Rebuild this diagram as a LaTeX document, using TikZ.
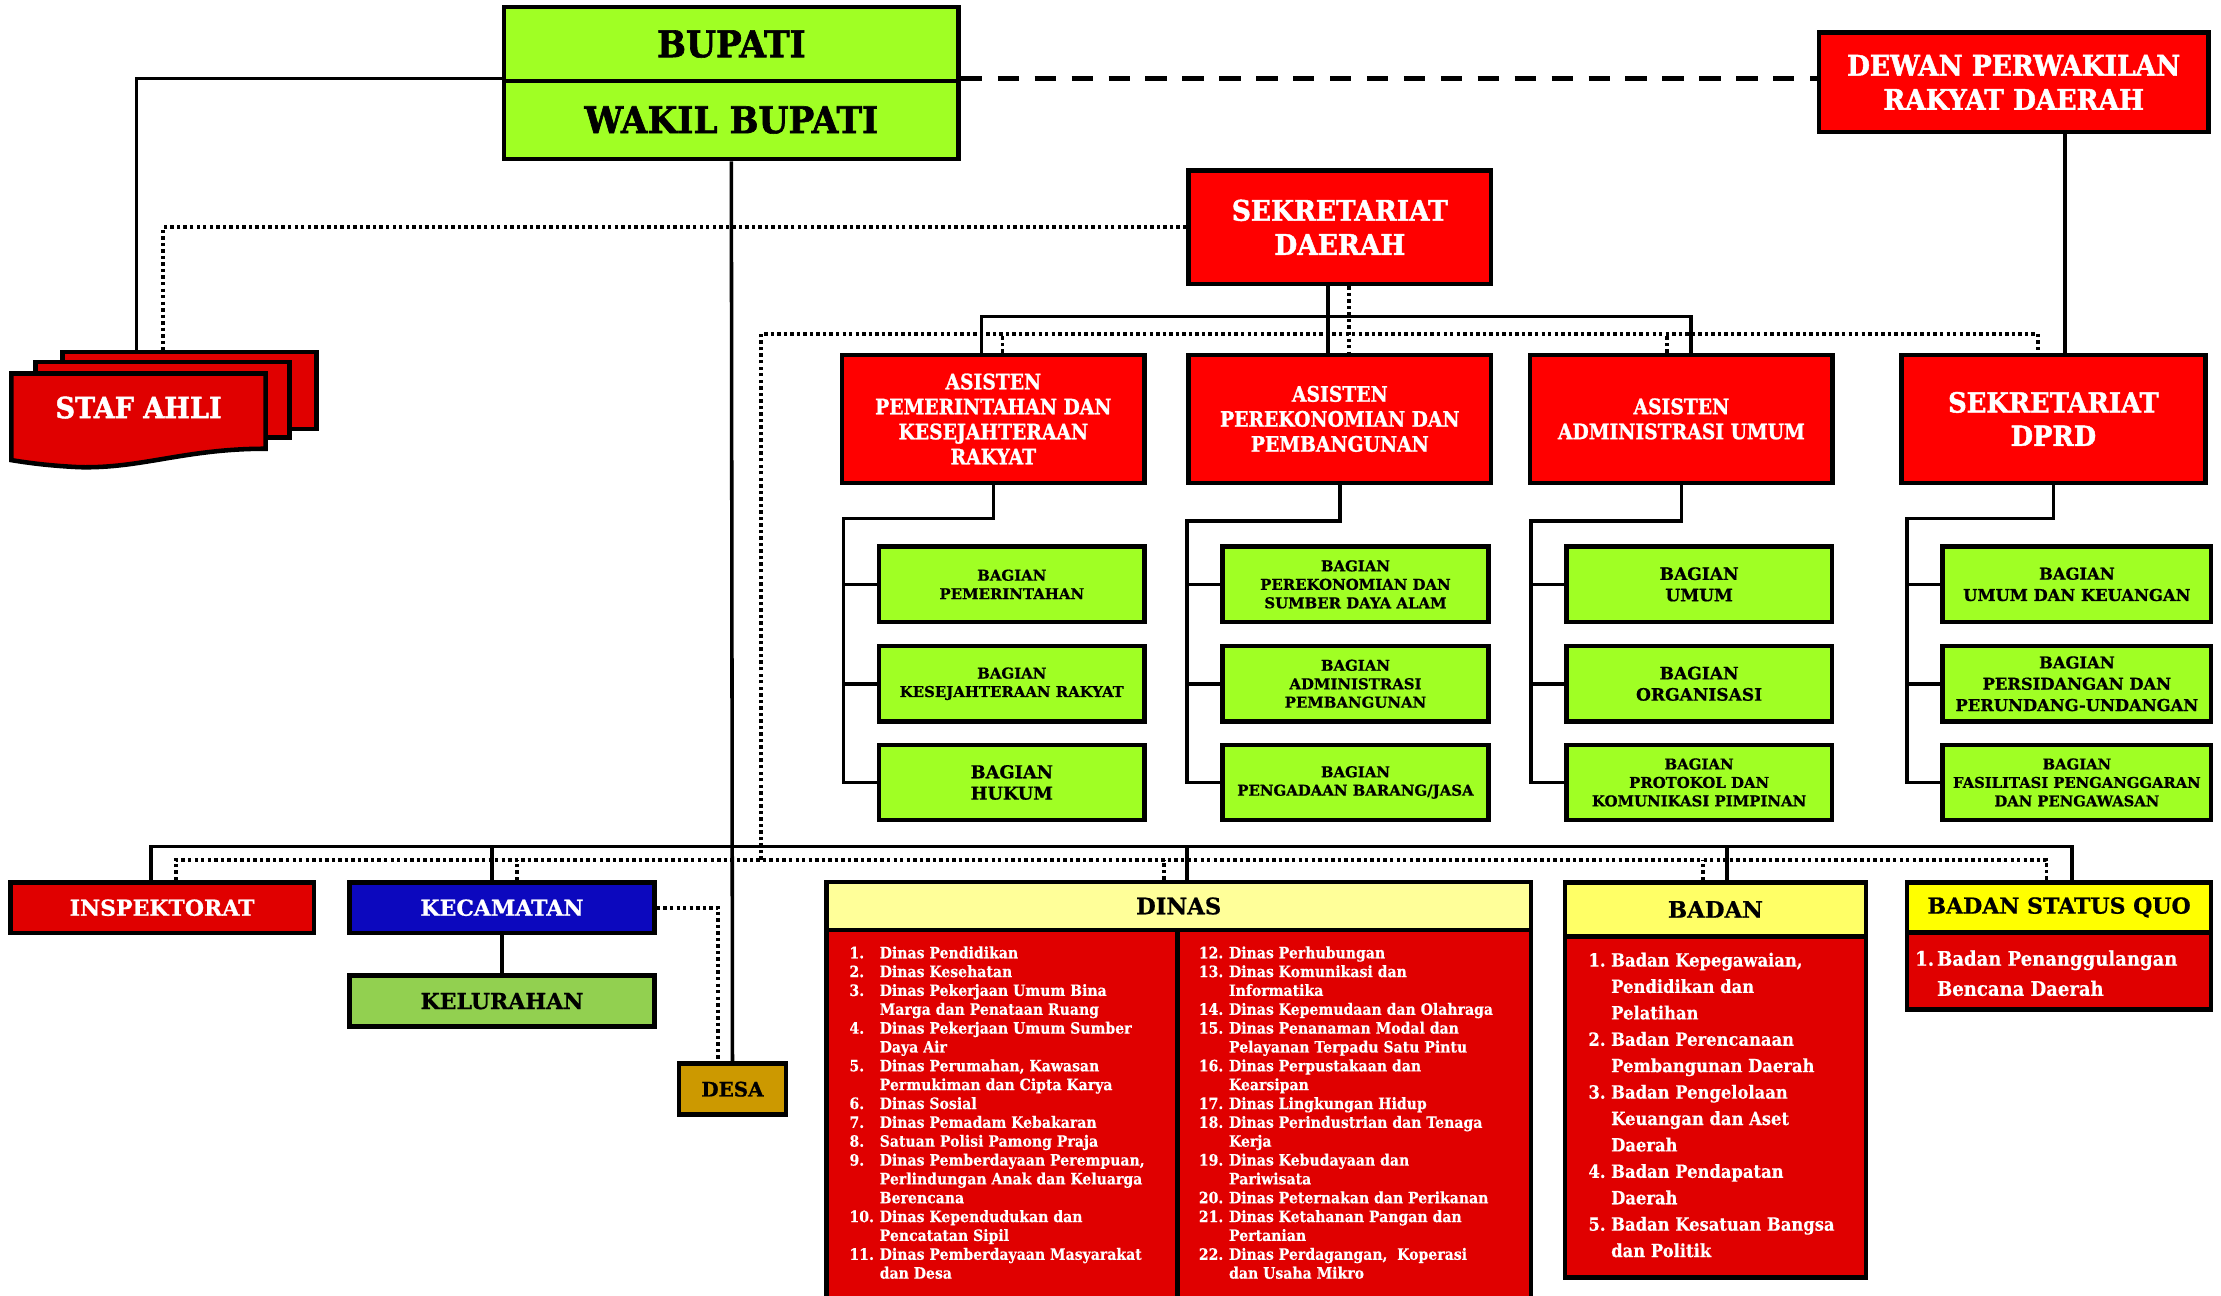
\documentclass[tikz,border=0pt]{standalone}
\usepackage{fontspec}
\setmainfont{DejaVu Serif}
\newfontfamily\hfA{DejaVu Serif}[FakeStretch=0.93,FakeBold=1.6]
\newfontfamily\hfB{DejaVu Serif}[FakeStretch=0.88,FakeBold=1.2]
\newfontfamily\hfC{DejaVu Serif}[FakeBold=0.8]
\newfontfamily\lf{DejaVu Serif}[FakeStretch=0.9,FakeBold=0.4]
\usetikzlibrary{calc}
\definecolor{cGreen}{RGB}{160,255,36}
\definecolor{cRed}{RGB}{255,0,0}
\definecolor{cRedD}{RGB}{224,0,0}
\definecolor{cBlue}{RGB}{12,8,190}
\definecolor{cKel}{RGB}{146,208,80}
\definecolor{cDesa}{RGB}{204,153,0}
\definecolor{cYa}{RGB}{255,255,153}
\definecolor{cYb}{RGB}{255,255,102}
\definecolor{cYc}{RGB}{255,255,0}
\pgfdeclarelayer{bg}
\pgfsetlayers{bg,main}
\tikzset{
  box/.style={draw=black, line width=3.2pt, inner sep=0pt, align=center, rectangle},
  redbox/.style={box, fill=cRed, text=white},
  bagbox/.style={box, fill=cGreen, text=black, minimum width=187pt, minimum height=53pt},
  smallbag/.style={font=\hfC\bfseries\fontsize{10.5}{13}\selectfont},
  bigbag/.style={font=\hfC\bfseries\fontsize{12}{15}\selectfont},
  asfont/.style={font=\hfB\bfseries\fontsize{15}{17.6}\selectfont},
  lowfont/.style={font=\hfC\bfseries\fontsize{15.5}{18}\selectfont},
  conn/.style={line width=2.5pt, black},
  dotc/.style={line width=2.6pt, black, dash pattern=on 2.4pt off 2.2pt},
  dashc/.style={line width=3.6pt, black, dash pattern=on 15pt off 11pt},
  listtxt/.style={inner sep=0pt, anchor=north west, text=white, align=left},
}
\begin{document}
\begin{tikzpicture}[x=1pt,y=-1pt]
\useasboundingbox (0,0) rectangle (1564,912);
% ---------- top
\node[box, fill=cGreen, minimum width=320pt, minimum height=52pt, font=\hfA\bfseries\fontsize{26}{28}\selectfont] (bupati) at (515,31) {BUPATI};
\node[box, fill=cGreen, minimum width=320pt, minimum height=55pt, font=\hfA\bfseries\fontsize{26}{28}\selectfont] (wakil) at (515,84.5) {WAKIL BUPATI};
\node[redbox, minimum width=274pt, minimum height=70pt, font=\hfA\bfseries\fontsize{20}{24}\selectfont] (dprd) at (1418,58) {DEWAN PERWAKILAN\\RAKYAT DAERAH};
\node[redbox, minimum width=213pt, minimum height=80pt, font=\hfA\bfseries\fontsize{20}{24}\selectfont] (sekda) at (943.5,160) {SEKRETARIAT\\DAERAH};
% ---------- staf ahli
\filldraw[fill=cRedD, draw=black, line width=3.2pt] (44,248) rectangle (223,302);
\filldraw[fill=cRedD, draw=black, line width=3.2pt] (25,255) rectangle (204,308);
\filldraw[fill=cRedD, draw=black, line width=3.2pt] (8,263) -- (187,263) -- (187,316) .. controls (130,316) and (100,330) .. (56,329) .. controls (35,328) and (20,326) .. (8,324) -- cycle;
\node[inner sep=0pt, text=white, font=\hfA\bfseries\fontsize{20.5}{24}\selectfont] (staf) at (97.6,287) {STAF AHLI};
\coordinate (stafA) at (96,248);
\coordinate (stafB) at (115,248);
% ---------- asisten
\node[redbox, minimum width=213pt, minimum height=90pt, asfont] (as1) at (699.5,295) {ASISTEN\\PEMERINTAHAN DAN\\KESEJAHTERAAN\\RAKYAT};
\node[redbox, minimum width=213pt, minimum height=90pt, asfont] (as2) at (943.5,295) {ASISTEN\\PEREKONOMIAN DAN\\PEMBANGUNAN};
\node[redbox, minimum width=213pt, minimum height=90pt, asfont] (as3) at (1184,295) {ASISTEN\\ADMINISTRASI UMUM};
\node[redbox, minimum width=214pt, minimum height=90pt, font=\hfA\bfseries\fontsize{19.5}{23.5}\selectfont] (sdprd) at (1446,295) {SEKRETARIAT\\DPRD};
% ---------- bagian
\node[bagbox, smallbag] (b11) at (712.5,411.5) {BAGIAN\\PEMERINTAHAN};
\node[bagbox, smallbag] (b12) at (712.5,481.5) {BAGIAN\\KESEJAHTERAAN RAKYAT};
\node[bagbox, font=\hfC\bfseries\fontsize{12.5}{15}\selectfont] (b13) at (712.5,551) {BAGIAN\\HUKUM};
\node[bagbox, smallbag] (b21) at (954.5,411.5) {BAGIAN\\PEREKONOMIAN DAN\\SUMBER DAYA ALAM};
\node[bagbox, smallbag] (b22) at (954.5,481.5) {BAGIAN\\ADMINISTRASI\\PEMBANGUNAN};
\node[bagbox, smallbag] (b23) at (954.5,551) {BAGIAN\\PENGADAAN BARANG/JASA};
\node[bagbox, bigbag] (b31) at (1196.5,411.5) {BAGIAN\\UMUM};
\node[bagbox, bigbag] (b32) at (1196.5,481.5) {BAGIAN\\ORGANISASI};
\node[bagbox, smallbag] (b33) at (1196.5,551) {BAGIAN\\PROTOKOL DAN\\KOMUNIKASI PIMPINAN};
\node[bagbox, minimum width=189pt, font=\hfC\bfseries\fontsize{11.5}{15}\selectfont] (b41) at (1462.5,411.5) {BAGIAN\\UMUM DAN KEUANGAN};
\node[bagbox, minimum width=189pt, font=\hfC\bfseries\fontsize{11.5}{15}\selectfont] (b42) at (1462.5,481.5) {BAGIAN\\PERSIDANGAN DAN\\PERUNDANG-UNDANGAN};
\node[bagbox, minimum width=189pt, font=\hfC\bfseries\fontsize{10.4}{13}\selectfont] (b43) at (1462.5,551) {BAGIAN\\FASILITASI PENGANGGARAN\\DAN PENGAWASAN};
% ---------- lower row
\node[box, fill=cRedD, text=white, minimum width=213.6pt, minimum height=35.6pt, lowfont] (insp) at (114.2,639.2) {INSPEKTORAT};
\node[box, fill=cBlue, text=white, minimum width=215pt, minimum height=35.6pt, lowfont] (kec) at (353.5,639.2) {KECAMATAN};
\node[box, fill=cKel, text=black, minimum width=215pt, minimum height=36pt, lowfont] (kel) at (353.5,705) {KELURAHAN};
\node[box, fill=cDesa, text=black, minimum width=75.6pt, minimum height=36pt, font=\hfC\bfseries\fontsize{14}{16}\selectfont] (desa) at (515.8,767) {DESA};
% dinas
\node[box, fill=cRedD, minimum width=247pt, minimum height=270pt] (dinasL) at (705.5,790) {};
\node[box, fill=cRedD, minimum width=249pt, minimum height=270pt] (dinasR) at (953.5,790) {};
\node[box, fill=cYa, minimum width=496pt, minimum height=34pt, font=\hfC\bfseries\fontsize{16}{18}\selectfont] (dinas) at (830,638) {DINAS};
\node[listtxt, font=\lf\bfseries\fontsize{11}{13.27}\selectfont] (dl1) at (598,665.3) {\begin{tabular}{@{}p{21.3pt}@{}l@{}}
1. & Dinas Pendidikan\\
2. & Dinas Kesehatan\\
3. & Dinas Pekerjaan Umum Bina\\
   & Marga dan Penataan Ruang\\
4. & Dinas Pekerjaan Umum Sumber\\
   & Daya Air\\
5. & Dinas Perumahan, Kawasan\\
   & Permukiman dan Cipta Karya\\
6. & Dinas Sosial\\
7. & Dinas Pemadam Kebakaran\\
8. & Satuan Polisi Pamong Praja\\
9. & Dinas Pemberdayaan Perempuan,\\
   & Perlindungan Anak dan Keluarga\\
   & Berencana\\
10. & Dinas Kependudukan dan\\
   & Pencatatan Sipil\\
11. & Dinas Pemberdayaan Masyarakat\\
   & dan Desa
\end{tabular}};
\node[listtxt, font=\lf\bfseries\fontsize{11}{13.27}\selectfont] (dl2) at (844,665.3) {\begin{tabular}{@{}p{21.3pt}@{}l@{}}
12. & Dinas Perhubungan\\
13. & Dinas Komunikasi dan\\
    & Informatika\\
14. & Dinas Kepemudaan dan Olahraga\\
15. & Dinas Penanaman Modal dan\\
    & Pelayanan Terpadu Satu Pintu\\
16. & Dinas Perpustakaan dan\\
    & Kearsipan\\
17. & Dinas Lingkungan Hidup\\
18. & Dinas Perindustrian dan Tenaga\\
    & Kerja\\
19. & Dinas Kebudayaan dan\\
    & Pariwisata\\
20. & Dinas Peternakan dan Perikanan\\
21. & Dinas Ketahanan Pangan dan\\
    & Pertanian\\
22. & Dinas Perdagangan,\ \ Koperasi\\
    & dan Usaha Mikro
\end{tabular}};
% badan
\node[box, fill=cRedD, minimum width=212pt, minimum height=240.5pt] (badanB) at (1208,779.5) {};
\node[box, fill=cYb, minimum width=212pt, minimum height=37.8pt, font=\hfC\bfseries\fontsize{16}{18}\selectfont] (badan) at (1208,640.4) {BADAN};
\node[listtxt, font=\lf\bfseries\fontsize{12.8}{18.6}\selectfont] (bl) at (1118.4,667.4) {\begin{tabular}{@{}p{16pt}@{}l@{}}
1. & Badan Kepegawaian,\\
   & Pendidikan dan\\
   & Pelatihan\\
2. & Badan Perencanaan\\
   & Pembangunan Daerah\\
3. & Badan Pengelolaan\\
   & Keuangan dan Aset\\
   & Daerah\\
4. & Badan Pendapatan\\
   & Daerah\\
5. & Badan Kesatuan Bangsa\\
   & dan Politik
\end{tabular}};
% badan status quo
\node[box, fill=cRedD, minimum width=214pt, minimum height=54.5pt] (bsqB) at (1450,683.75) {};
\node[box, fill=cYc, minimum width=214pt, minimum height=35pt, font=\hfC\bfseries\fontsize{15.5}{18}\selectfont] (bsq) at (1450,639) {BADAN STATUS QUO};
\node[listtxt, font=\lf\bfseries\fontsize{14.1}{21.2}\selectfont] (ql) at (1348.5,665) {\begin{tabular}{@{}p{15.4pt}@{}l@{}}
1. & Badan Penanggulangan\\
   & Bencana Daerah
\end{tabular}};
% ---------- connectors
\begin{pgfonlayer}{bg}
\fill[white] (0,0) rectangle (1564,912);
\draw[conn] (wakil.north west) -| (stafA);
\draw[dotc] (sekda.west) -| (stafB);
\draw[dashc] (wakil.north east) -- (wakil.north east -| dprd.west);
\draw[conn] ([xshift=8pt]sdprd.north) -- ([xshift=8pt]sdprd.north |- dprd.south);
\draw[conn] (wakil.south) -- (desa.north);
% sekda to asisten
\coordinate (sbar) at (935,223);
\draw[conn] ([xshift=-8.5pt]sekda.south) -- ([xshift=-8.5pt]as2.north);
\draw[conn] (sbar) -| ([xshift=-8.5pt]as1.north);
\draw[conn] (sbar) -| ([xshift=6.6pt]as3.north);
% dotted upper
\coordinate (dtl) at (536,235);
\coordinate (dbl) at (536,605.5);
\draw[dotc] ([xshift=6.5pt]sekda.south) -- ([xshift=6.5pt]as2.north);
\draw[dotc] (dbl) -- (dtl) -| ([xshift=-11pt]sdprd.north);
\draw[dotc] ([xshift=6.5pt]as1.north) -- ([xshift=6.5pt]as1.north |- dtl);
\draw[dotc] ([xshift=-10pt]as3.north) -- ([xshift=-10pt]as3.north |- dtl);
% lower solid bar
\coordinate (lbar) at (515,596);
\draw[conn] ([xshift=-8pt]insp.north) |- ([xshift=9pt]bsq.north |- lbar) -- ([xshift=9pt]bsq.north);
\draw[conn] ([xshift=-7pt]kec.north) -- ([xshift=-7pt]kec.north |- lbar);
\draw[conn] ([xshift=6pt]dinas.north) -- ([xshift=6pt]dinas.north |- lbar);
\draw[conn] ([xshift=8pt]badan.north) -- ([xshift=8pt]badan.north |- lbar);
% lower dotted bar
\draw[dotc] ([xshift=9.5pt]insp.north) |- ([xshift=-9pt]bsq.north |- dbl) -- ([xshift=-9pt]bsq.north);
\draw[dotc] ([xshift=10.5pt]kec.north) -- ([xshift=10.5pt]kec.north |- dbl);
\draw[dotc] ([xshift=-10.5pt]dinas.north) -- ([xshift=-10.5pt]dinas.north |- dbl);
\draw[dotc] ([xshift=-9pt]badan.north) -- ([xshift=-9pt]badan.north |- dbl);
% kecamatan
\draw[conn] (kec.south) -- (kel.north);
\draw[dotc] (kec.east) -| ([xshift=-10pt]desa.north);
% subtrees
\coordinate (t1) at (594,365);
\draw[conn] (as1.south) |- (t1) |- (b13.west);
\draw[conn] (t1 |- b11.west) -- (b11.west);
\draw[conn] (t1 |- b12.west) -- (b12.west);
\coordinate (t2) at (836,367);
\draw[conn] (as2.south) |- (t2) |- (b23.west);
\draw[conn] (t2 |- b21.west) -- (b21.west);
\draw[conn] (t2 |- b22.west) -- (b22.west);
\coordinate (t3) at (1078,367);
\draw[conn] (as3.south) |- (t3) |- (b33.west);
\draw[conn] (t3 |- b31.west) -- (b31.west);
\draw[conn] (t3 |- b32.west) -- (b32.west);
\coordinate (t4) at (1343,365);
\draw[conn] (sdprd.south) |- (t4) |- (b43.west);
\draw[conn] (t4 |- b41.west) -- (b41.west);
\draw[conn] (t4 |- b42.west) -- (b42.west);
\end{pgfonlayer}
\end{tikzpicture}
\end{document}
